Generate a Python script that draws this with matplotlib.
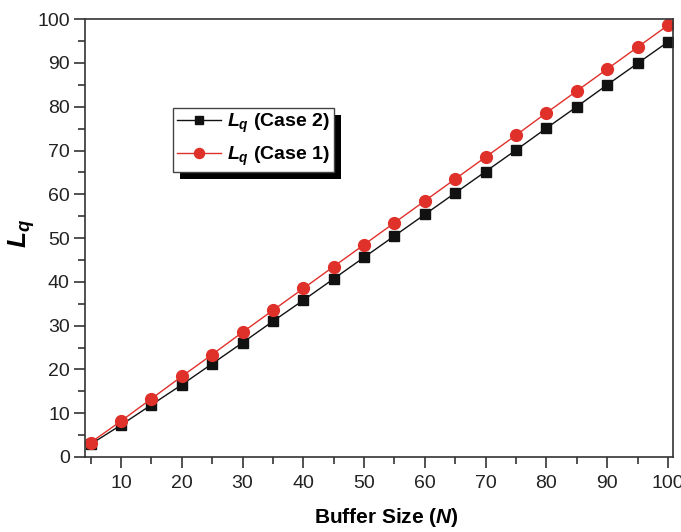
import matplotlib.pyplot as plt
from matplotlib.ticker import MultipleLocator
import matplotlib.patheffects as pe

plt.rcParams['font.family'] = 'Liberation Sans'
plt.rcParams['mathtext.fontset'] = 'custom'
plt.rcParams['mathtext.rm'] = 'Liberation Sans:bold'
plt.rcParams['mathtext.it'] = 'Liberation Sans:bold:italic'
plt.rcParams['mathtext.bf'] = 'Liberation Sans:bold'

buffer_size = [5, 10, 15, 20, 25, 30, 35, 40, 45, 50,
               55, 60, 65, 70, 75, 80, 85, 90, 95, 100]
lq_case2 = [2.9, 7.3, 11.9, 16.5, 21.3, 26.1, 31.0, 35.8, 40.7, 45.6,
            50.5, 55.4, 60.3, 65.2, 70.1, 75.1, 80.0, 85.0, 89.9, 94.8]
lq_case1 = [3.3, 8.2, 13.3, 18.4, 23.4, 28.5, 33.5, 38.5, 43.5, 48.5,
            53.5, 58.5, 63.5, 68.5, 73.5, 78.6, 83.6, 88.6, 93.6, 98.6]

fig = plt.figure(figsize=(6.81, 5.32), dpi=100)
ax = fig.add_axes([0.125, 0.141, 0.863, 0.823])

ax.plot(buffer_size, lq_case2, color='#111111', lw=1, marker='s', ms=7.5,
        label=r'$L_q$ (Case 2)')
ax.plot(buffer_size, lq_case1, color='#e0302a', lw=1, marker='o', ms=8.5,
        label=r'$L_q$ (Case 1)')

ax.set_xlim(4.1, 100.8)
ax.set_ylim(0, 100)
ax.xaxis.set_major_locator(MultipleLocator(10))
ax.xaxis.set_minor_locator(MultipleLocator(5))
ax.yaxis.set_major_locator(MultipleLocator(10))
ax.yaxis.set_minor_locator(MultipleLocator(5))
ax.tick_params(which='both', direction='out', top=False, right=False,
               labelsize=14, color='#333333', width=1.2, labelcolor='#222222')
ax.tick_params(which='major', length=8, pad=3)
ax.tick_params(which='minor', length=5)
ax.tick_params(axis='x', pad=5)
for s in ax.spines.values():
    s.set_color('#333333')
    s.set_linewidth(1.2)

ax.set_xlabel(r'Buffer Size ($N$)', fontsize=15, fontweight='bold')
ax.xaxis.set_label_coords(0.513, -0.113)
ax.set_ylabel(r'$L_q$', fontsize=19)
ax.yaxis.set_label_coords(-0.082, 0.51)

leg = ax.legend(loc='upper left', bbox_to_anchor=(0.149, 0.797),
                handlelength=2.3, labelspacing=0.5, borderpad=0.2,
                handletextpad=0.3, borderaxespad=0, fancybox=False,
                framealpha=1, edgecolor='#444444', markerscale=0.85,
                prop={'weight': 'bold', 'size': 14})
leg.get_frame().set_linewidth(1)
leg.get_frame().set_path_effects([
    pe.withSimplePatchShadow(offset=(5, -5), shadow_rgbFace='black', alpha=1)])

fig.savefig('out.png', dpi=100)
